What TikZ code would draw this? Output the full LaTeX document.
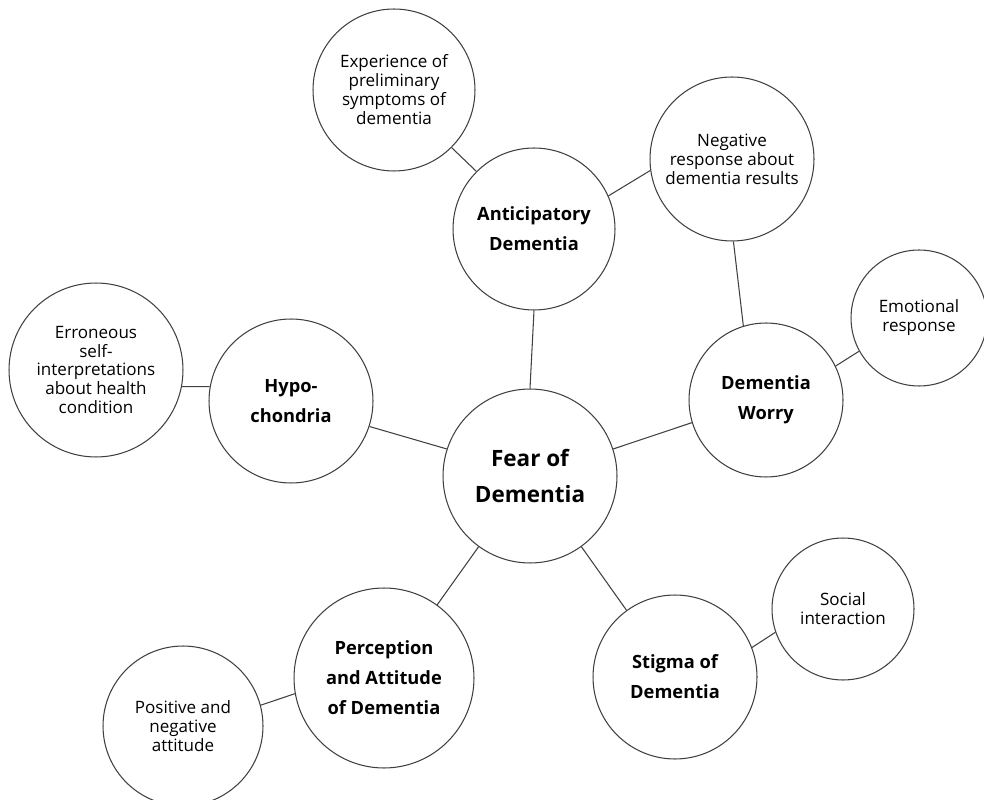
\documentclass[tikz,border=0pt]{standalone}
\usepackage{fontspec}
\setmainfont{Open Sans}

\begin{document}
\begin{tikzpicture}[x=0.02cm, y=-0.02cm,
    bubble/.style={circle, draw=black!75, line width=0.6pt, inner sep=0pt, align=center, minimum size=#1},
    hub/.style={bubble=#1, font=\bfseries\fontsize{12.8}{21}\selectfont},
    theme/.style={bubble=#1, font=\bfseries\fontsize{10.4}{17}\selectfont},
    facet/.style={bubble=#1, font=\fontsize{9.7}{10.8}\selectfont},
    link/.style={draw=black!75, line width=0.6pt}]

    % 1. Page frame, same proportions as the reference
    \useasboundingbox (0,0) rectangle (984,800);

    % 2. Central circle
    \node[hub=3.48cm] (fear) at (530,476) {Fear of\\Dementia};

    % 3. The five themes round it
    \node[theme=3.24cm] (antic) at (534,229) {Anticipatory\\Dementia};
    \node[theme=3.08cm] (worry) at (766,400) {Dementia\\Worry};
    \node[theme=3.28cm] (hypo) at (291,401) {Hypo-\\chondria};
    \node[theme=3.60cm] (percep) at (384,678) {Perception\\and Attitude\\of Dementia};
    \node[theme=3.28cm] (stigma) at (675,677) {Stigma of\\Dementia};

    % 4. Facets of each theme
    \node[facet=3.24cm] (prelim) at (394,90) {Experience of\\preliminary\\symptoms of\\dementia};
    \node[facet=3.28cm] (negresp) at (732,159) {Negative\\response about\\dementia results};
    \node[facet=2.72cm] (emotion) at (919,318) {Emotional\\response};
    \node[facet=3.48cm] (selfint) at (96,370) {Erroneous\\self-\\interpretations\\about health\\condition};
    \node[facet=3.20cm] (attitude) at (183,726) {Positive and\\negative\\attitude};
    \node[facet=2.84cm] (social) at (843,609) {Social\\interaction};

    % 5. Connectors
    \draw[link] (fear.90) -- (antic.-90);
    \draw[link] (fear.18) -- (worry.-163);
    \draw[link] (fear.162) -- (hypo.-18);
    \draw[link] (fear.-126) -- (percep.54);
    \draw[link] (fear.-54) -- (stigma.126);
    \draw[link] (antic.135) -- (prelim.-45);
    \draw[link] (antic.24) -- (negresp.-172);
    \draw[link] (worry.107) -- (negresp.-89);
    \draw[link] (worry.26) -- (emotion.-151);
    \draw[link] (hypo.170) -- (selfint.-11);
    \draw[link] (percep.-170) -- (attitude.15);
    \draw[link] (stigma.21) -- (social.-161);

\end{tikzpicture}
\end{document}
